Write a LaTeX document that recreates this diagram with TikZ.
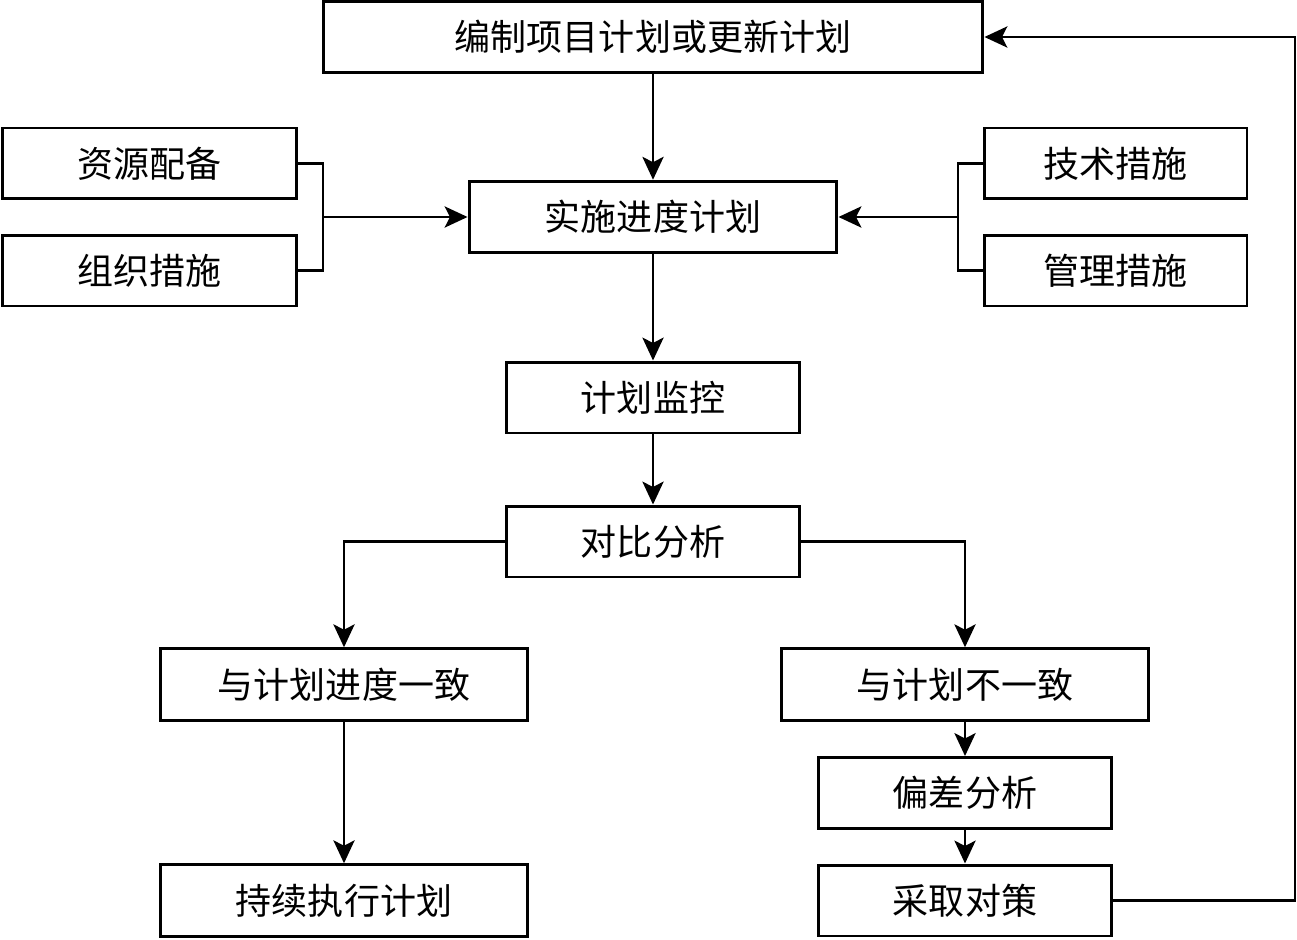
\documentclass[tikz,border=0pt]{standalone}
\usepackage{fontspec}
\newfontfamily\cjk{Noto Sans CJK SC}
\usepackage{tikz}
\usetikzlibrary{arrows.meta,positioning,calc}
\usepackage{xcolor}
\definecolor{inkline}{RGB}{0,0,0}

\begin{document}
\begin{tikzpicture}[
    x=0.02cm, y=-0.02cm,
    box/.style={draw=inkline, line width=1.7pt, fill=white, inner sep=0pt,
                font=\cjk\fontsize{20.5pt}{24pt}\selectfont, align=center},
    wide/.style={box, minimum width=13.2cm, minimum height=1.42cm},
    mid/.style={box, minimum width=7.36cm, minimum height=1.43cm},
    side/.style={box, minimum width=5.9cm, minimum height=1.42cm},
    narrow/.style={box, minimum width=5.26cm, minimum height=1.42cm},
    small/.style={box, minimum width=5.88cm, minimum height=1.42cm},
    link/.style={draw=inkline, line width=1.6pt},
    arr/.style={link, -{Stealth[length=13pt, width=12pt, inset=3pt]}},
]
\useasboundingbox (0,0) rectangle (1297,939);

% main column
\node[wide]  (plan)    at (653,37)    {编制项目计划或更新计划};
\node[mid]   (exec)    at (653,217)   {实施进度计划};
\node[small] (monitor) at (653,397.5) {计划监控};
\node[small] (compare) at (653,541.5) {对比分析};

% inputs
\node[side]   (res)  at (149.5,163.5)  {资源配备};
\node[side]   (org)  at (149.5,270.5)  {组织措施};
\node[narrow] (tech) at (1115.5,163.5) {技术措施};
\node[narrow] (mgmt) at (1115.5,270.5) {管理措施};

% outcomes
\node[mid]   (match)    at (344,684.5) {与计划进度一致};
\node[mid]   (mismatch) at (965,684.5) {与计划不一致};
\node[small] (dev)      at (965,793)   {偏差分析};
\node[small] (act)      at (965,900.5) {采取对策};
\node[mid]   (keep)     at (344,900.5) {持续执行计划};

\coordinate (lj) at (323,217);
\coordinate (rj) at (958,217);
\coordinate (back) at (1295,37);

\draw[arr] (plan) -- (exec);
\draw[arr] (exec) -- (monitor);
\draw[arr] (monitor) -- (compare);

\draw[link] (res.east) -| (lj) |- (org.east);
\draw[arr] (lj) -- (exec.west);
\draw[link] (tech.west) -| (rj) |- (mgmt.west);
\draw[arr] (rj) -- (exec.east);

\draw[arr] (compare.west) -| (match.north);
\draw[arr] (compare.east) -| (mismatch.north);
\draw[arr] (match) -- (keep);
\draw[arr] (mismatch) -- (dev);
\draw[arr] (dev) -- (act);
\draw[arr] (act.east) -| (back) -- (plan.east);
\end{tikzpicture}
\end{document}
